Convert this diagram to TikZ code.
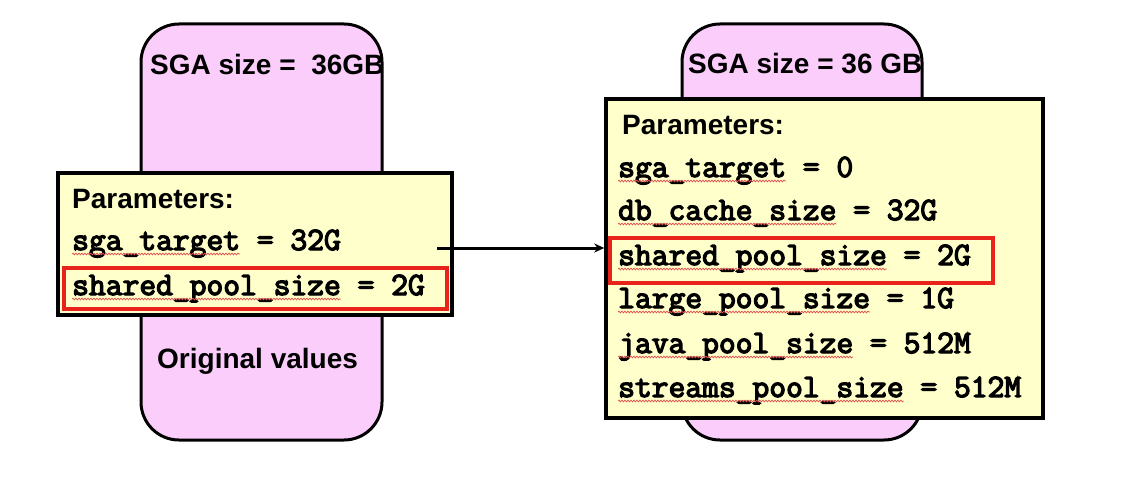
\documentclass[tikz,border=0pt]{standalone}
\usepackage{fontspec}
\setmainfont{Liberation Sans}
\newfontfamily\courfont[FakeBold=4]{Latin Modern Mono}
\usetikzlibrary{arrows.meta,decorations.pathmorphing}
\definecolor{sgapink}{HTML}{FBCDFB}
\definecolor{parayellow}{HTML}{FFFFCC}
\definecolor{hired}{HTML}{E8231C}
\definecolor{squigred}{HTML}{E05050}
\tikzset{
  sgabox/.style={draw=black, line width=3pt, fill=sgapink, rounded corners=38pt, inner sep=0pt},
  parbox/.style={draw=black, line width=3.5pt, fill=parayellow, inner sep=0pt},
  hibox/.style={draw=hired, line width=3.5pt, inner sep=0pt},
  lbl/.style={font=\fontsize{28}{34}\selectfont\bfseries, inner sep=0pt, anchor=base west},
  mono/.style={font=\fontsize{32.6}{38}\selectfont\courfont, inner sep=0pt, anchor=base west},
  squig/.style={draw=squigred, line width=0.7pt, decorate, decoration={snake, amplitude=0.9pt, segment length=3pt}},
  arr/.style={line width=3pt, -{Stealth[length=10pt,width=9pt]}}
}
\begin{document}
\begin{tikzpicture}[x=1pt,y=-1pt]
\path[use as bounding box] (0,0) rectangle (1123,476);
\fill[white] (0,0) rectangle (1123,476);
% left SGA
\node[sgabox, minimum width=241pt, minimum height=416pt] (lsga) at (261.5,232) {};
\node[lbl] (lsize) at (150,75) {SGA size =\ \ 36GB};
\node[lbl] (lorig) at (157,368) {Original values};
\node[parbox, minimum width=394pt, minimum height=142pt] (lbox) at (255,244) {};
\node[hibox, minimum width=383pt, minimum height=41pt] (lred) at (255.5,288.5) {};
\node[lbl] (lpar) at (72,208) {Parameters:};
\node[mono] (l1) at (72,250) {sga\_target = 32G};
\node[mono] (l2) at (72,295) {shared\_pool\_size = 2G};
\draw[squig] ([yshift=-4pt]l1.base west) -- ++(168,0);
\draw[squig] ([yshift=-4pt]l2.base west) -- ++(268.8,0);
% right SGA
\node[sgabox, minimum width=240pt, minimum height=416pt] (rsga) at (802,232) {};
\node[lbl] (rsize) at (688,74) {SGA size = 36 GB};
\node[parbox, minimum width=437pt, minimum height=319pt] (rbox) at (824.5,258.5) {};
\node[hibox, minimum width=383pt, minimum height=45pt] (rred) at (801.5,260.5) {};
\node[lbl] (rpar) at (622,135) {Parameters:};
\node[mono] (r1) at (618,177) {sga\_target = 0};
\node[mono] (r2) at (618,220) {db\_cache\_size = 32G};
\node[mono] (r3) at (618,265) {shared\_pool\_size = 2G};
\node[mono] (r4) at (618,308) {large\_pool\_size = 1G};
\node[mono] (r5) at (618,353) {java\_pool\_size = 512M};
\node[mono] (r6) at (618,397) {streams\_pool\_size = 512M};
\draw[squig] ([yshift=-4pt]r1.base west) -- ++(168,0);
\draw[squig] ([yshift=-4pt]r2.base west) -- ++(218.4,0);
\draw[squig] ([yshift=-4pt]r3.base west) -- ++(268.8,0);
\draw[squig] ([yshift=-4pt]r4.base west) -- ++(252,0);
\draw[squig] ([yshift=-4pt]r5.base west) -- ++(235.2,0);
\draw[squig] ([yshift=-4pt]r6.base west) -- ++(285.6,0);
% arrow
\coordinate (astart) at (437,248);
\draw[arr] (astart) -- (rbox.west |- astart);
\end{tikzpicture}
\end{document}
